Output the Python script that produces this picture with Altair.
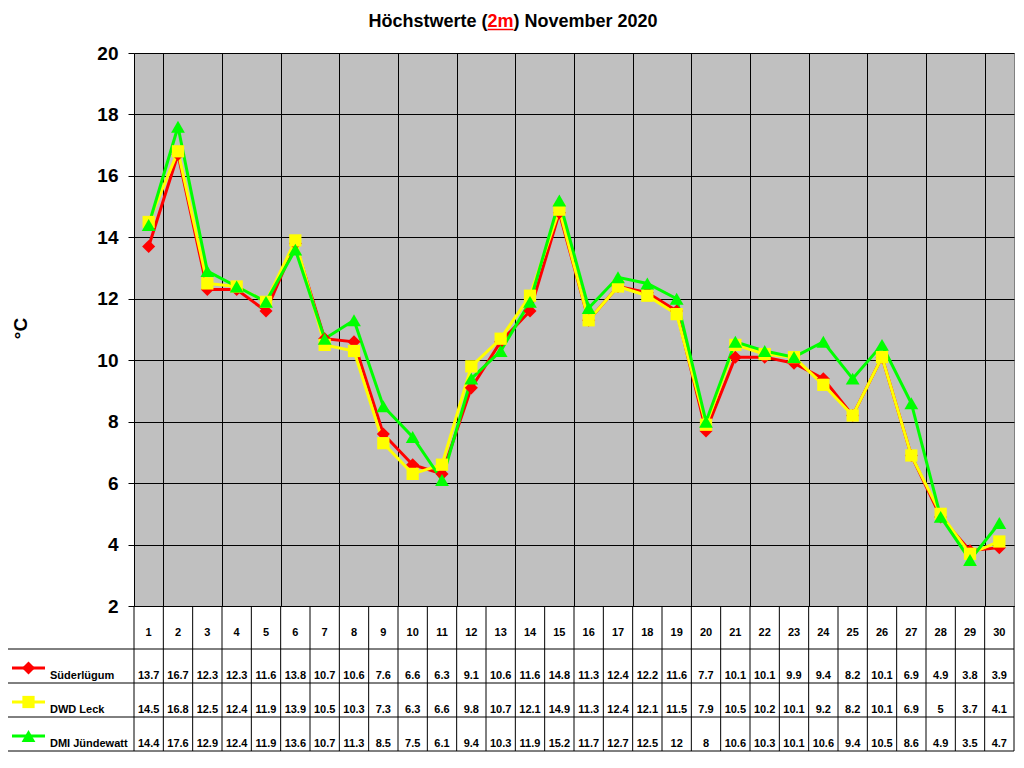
import altair as alt
import pandas as pd

days = list(range(1, 31))
sued = [13.7, 16.7, 12.3, 12.3, 11.6, 13.8, 10.7, 10.6, 7.6, 6.6, 6.3, 9.1, 10.6, 11.6, 14.8,
        11.3, 12.4, 12.2, 11.6, 7.7, 10.1, 10.1, 9.9, 9.4, 8.2, 10.1, 6.9, 4.9, 3.8, 3.9]
leck = [14.5, 16.8, 12.5, 12.4, 11.9, 13.9, 10.5, 10.3, 7.3, 6.3, 6.6, 9.8, 10.7, 12.1, 14.9,
        11.3, 12.4, 12.1, 11.5, 7.9, 10.5, 10.2, 10.1, 9.2, 8.2, 10.1, 6.9, 5, 3.7, 4.1]
dmi = [14.4, 17.6, 12.9, 12.4, 11.9, 13.6, 10.7, 11.3, 8.5, 7.5, 6.1, 9.4, 10.3, 11.9, 15.2,
       11.7, 12.7, 12.5, 12, 8, 10.6, 10.3, 10.1, 10.6, 9.4, 10.5, 8.6, 4.9, 3.5, 4.7]
series_names = ["Süderlügum", "DWD Leck", "DMI Jündewatt"]
series_values = [sued, leck, dmi]
colors = ["#FF0000", "#FFFF00", "#00FF00"]
shapes = ["diamond", "square", "triangle-up"]
sizes = [170, 150, 190]
title_parts = ["Höchstwerte (", "2m", ") November 2020"]

FONT = "Liberation Sans"
W, H = 880, 553

# table layout (pixels relative to plot origin)
row_borders = [596, 630, 664, 698]
row_baselines = [626, 660, 694]
left_edge = -127

xscale = alt.Scale(domain=[0.5, 30.5], nice=False, zero=False)
yscale = alt.Scale(domain=[2, 20], nice=False, zero=False)

frames = []
for name, vals in zip(series_names, series_values):
    frames.append(pd.DataFrame({
        "day": days, "value": vals, "series": name,
        "label": [f"{v:g}" for v in vals],
    }))

one = pd.DataFrame({"k": [0]})

# base with axes
base = alt.Chart(frames[0]).mark_line(strokeWidth=3, color=colors[0]).encode(
    x=alt.X("day:Q", scale=xscale,
            axis=alt.Axis(values=[d + 0.5 for d in days[:-1]], grid=True, gridColor="#000000",
                          gridWidth=1, gridOpacity=1, labels=False, ticks=False,
                          domain=True, domainColor="#000000", title=None)),
    y=alt.Y("value:Q", scale=yscale,
            axis=alt.Axis(values=list(range(2, 21, 2)), grid=True, gridColor="#000000",
                          gridWidth=1, gridOpacity=1, tickColor="#000000", tickSize=6,
                          labelFont=FONT, labelFontSize=19, labelFontWeight="bold",
                          labelColor="#000000", labelPadding=10, domainColor="#000000",
                          title="°C", titleFont=FONT, titleFontSize=19, titleFontWeight="bold",
                          titleColor="#000000", titleAngle=270, titleX=-114, titleY=275,
                          titleAlign="center", titleBaseline="middle")),
)

layers = [base]
for i in (1, 2):
    layers.append(alt.Chart(frames[i]).mark_line(strokeWidth=3, color=colors[i]).encode(
        x=alt.X("day:Q", scale=xscale), y=alt.Y("value:Q", scale=yscale)))
for i in range(3):
    layers.append(alt.Chart(frames[i]).mark_point(
        shape=shapes[i], size=sizes[i], filled=True, opacity=1, color=colors[i]).encode(
        x=alt.X("day:Q", scale=xscale), y=alt.Y("value:Q", scale=yscale)))

# table grid: vertical column lines
bounds = pd.DataFrame({"day": [d - 0.5 for d in days] + [30.5]})
layers.append(alt.Chart(bounds).mark_rule(color="#000000", strokeWidth=1).encode(
    x=alt.X("day:Q", scale=xscale), y=alt.value(H), y2=alt.value(row_borders[-1])))
# left border of legend rows
layers.append(alt.Chart(one).mark_rule(color="#000000", strokeWidth=1).encode(
    x=alt.value(left_edge), y=alt.value(row_borders[0]), y2=alt.value(row_borders[-1])))
# horizontal rules
for yb in row_borders:
    layers.append(alt.Chart(one).mark_rule(color="#000000", strokeWidth=1).encode(
        x=alt.value(left_edge), x2=alt.value(W), y=alt.value(yb)))

# day numbers
daydf = pd.DataFrame({"day": days, "label": [str(d) for d in days]})
layers.append(alt.Chart(daydf).mark_text(
    font=FONT, fontSize=11, fontWeight="bold", color="#000000", baseline="middle").encode(
    x=alt.X("day:Q", scale=xscale), y=alt.value(580), text="label:N"))

# value rows + legend
for i in range(3):
    layers.append(alt.Chart(frames[i]).mark_text(
        font=FONT, fontSize=11, fontWeight="bold", color="#000000",
        baseline="alphabetic").encode(
        x=alt.X("day:Q", scale=xscale), y=alt.value(row_baselines[i]), text="label:N"))
    sym_y = row_baselines[i] - 11
    leg = pd.DataFrame({"name": [series_names[i]]})
    layers.append(alt.Chart(leg).mark_rule(color=colors[i], strokeWidth=3).encode(
        x=alt.value(-122), x2=alt.value(-89), y=alt.value(sym_y)))
    layers.append(alt.Chart(leg).mark_point(
        shape=shapes[i], size=sizes[i], filled=True, opacity=1, color=colors[i]).encode(
        x=alt.value(-105.5), y=alt.value(sym_y)))
    layers.append(alt.Chart(leg).mark_text(
        font=FONT, fontSize=11, fontWeight="bold", color="#000000", align="left",
        baseline="alphabetic").encode(
        x=alt.value(-84), y=alt.value(row_baselines[i]), text="name:N"))

# title (three parts, middle in red and underlined)
tdf = pd.DataFrame({"t": title_parts})
layers.append(alt.Chart(tdf.iloc[[0]]).mark_text(
    font=FONT, fontSize=18, fontWeight="bold", color="#000000", align="right",
    baseline="alphabetic").encode(x=alt.value(353.5), y=alt.value(-26), text="t:N"))
layers.append(alt.Chart(tdf.iloc[[1]]).mark_text(
    font=FONT, fontSize=18, fontWeight="bold", color="#FF0000", align="center",
    baseline="alphabetic").encode(x=alt.value(366.5), y=alt.value(-26), text="t:N"))
layers.append(alt.Chart(tdf.iloc[[2]]).mark_text(
    font=FONT, fontSize=18, fontWeight="bold", color="#000000", align="left",
    baseline="alphabetic").encode(x=alt.value(379.5), y=alt.value(-26), text="t:N"))
layers.append(alt.Chart(one).mark_rule(color="#FF0000", strokeWidth=1.5).encode(
    x=alt.value(353.5), x2=alt.value(379.5), y=alt.value(-23.5)))

chart = alt.layer(*layers).properties(
    width=W, height=H,
    background="#FFFFFF",
    autosize=alt.AutoSizeParams(type="none"),
    padding={"left": 126, "top": 45, "right": 2, "bottom": 147},
).configure_view(fill="#C0C0C0", stroke="#808080")

chart.save("out.html", embed_options={"renderer": "svg", "actions": False})
